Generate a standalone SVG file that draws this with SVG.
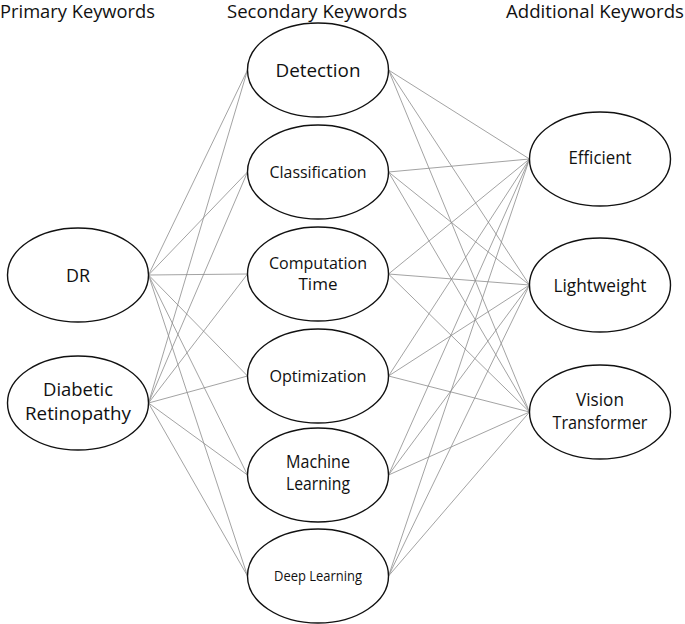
<svg xmlns="http://www.w3.org/2000/svg" width="685" height="624" viewBox="0 0 685 624">
<style>
text{font-family:"Open Sans","Liberation Sans",sans-serif;fill:#111;text-anchor:middle}
.hd{font-size:18px;text-anchor:start}
ellipse{fill:#fff;stroke:#111;stroke-width:1.4}
#connectors line{stroke:#8c8c8c;stroke-width:0.8}
</style>
<rect width="685" height="624" fill="#fff"/>
<text class="hd" x="0" y="18" textLength="155" lengthAdjust="spacingAndGlyphs">Primary Keywords</text>
<text class="hd" x="227" y="18" textLength="180" lengthAdjust="spacingAndGlyphs">Secondary Keywords</text>
<text class="hd" x="506" y="18" textLength="178" lengthAdjust="spacingAndGlyphs">Additional Keywords</text>
<g id="connectors">
<line x1="148.5" y1="275" x2="247.5" y2="70"/>
<line x1="148.5" y1="275" x2="247.5" y2="172"/>
<line x1="148.5" y1="275" x2="247.5" y2="274"/>
<line x1="148.5" y1="275" x2="247.5" y2="376"/>
<line x1="148.5" y1="275" x2="247.5" y2="475"/>
<line x1="148.5" y1="275" x2="247.5" y2="576"/>
<line x1="148.5" y1="403" x2="247.5" y2="70"/>
<line x1="148.5" y1="403" x2="247.5" y2="172"/>
<line x1="148.5" y1="403" x2="247.5" y2="274"/>
<line x1="148.5" y1="403" x2="247.5" y2="376"/>
<line x1="148.5" y1="403" x2="247.5" y2="475"/>
<line x1="148.5" y1="403" x2="247.5" y2="576"/>
<line x1="388.5" y1="70" x2="529.5" y2="159"/>
<line x1="388.5" y1="70" x2="529.5" y2="285"/>
<line x1="388.5" y1="70" x2="529.5" y2="412"/>
<line x1="388.5" y1="172" x2="529.5" y2="159"/>
<line x1="388.5" y1="172" x2="529.5" y2="285"/>
<line x1="388.5" y1="172" x2="529.5" y2="412"/>
<line x1="388.5" y1="274" x2="529.5" y2="159"/>
<line x1="388.5" y1="274" x2="529.5" y2="285"/>
<line x1="388.5" y1="274" x2="529.5" y2="412"/>
<line x1="388.5" y1="376" x2="529.5" y2="159"/>
<line x1="388.5" y1="376" x2="529.5" y2="285"/>
<line x1="388.5" y1="376" x2="529.5" y2="412"/>
<line x1="388.5" y1="475" x2="529.5" y2="159"/>
<line x1="388.5" y1="475" x2="529.5" y2="285"/>
<line x1="388.5" y1="475" x2="529.5" y2="412"/>
<line x1="388.5" y1="576" x2="529.5" y2="159"/>
<line x1="388.5" y1="576" x2="529.5" y2="285"/>
<line x1="388.5" y1="576" x2="529.5" y2="412"/>
</g>
<g id="dr"><ellipse cx="78" cy="275" rx="70.5" ry="47"/><text x="78" y="282" font-size="19" textLength="24" lengthAdjust="spacingAndGlyphs">DR</text></g>
<g id="diabetic-retinopathy"><ellipse cx="78" cy="403" rx="70.5" ry="47"/><text x="78" y="396" font-size="19" textLength="70" lengthAdjust="spacingAndGlyphs">Diabetic</text><text x="78" y="420" font-size="19" textLength="106" lengthAdjust="spacingAndGlyphs">Retinopathy</text></g>
<g id="detection"><ellipse cx="318" cy="70" rx="70.5" ry="47"/><text x="318" y="77" font-size="19" textLength="85" lengthAdjust="spacingAndGlyphs">Detection</text></g>
<g id="classification"><ellipse cx="318" cy="172" rx="70.5" ry="47"/><text x="318" y="178" font-size="17" textLength="97" lengthAdjust="spacingAndGlyphs">Classification</text></g>
<g id="computation-time"><ellipse cx="318" cy="274" rx="70.5" ry="47"/><text x="318" y="269" font-size="17" textLength="98" lengthAdjust="spacingAndGlyphs">Computation</text><text x="318" y="290" font-size="17" textLength="39" lengthAdjust="spacingAndGlyphs">Time</text></g>
<g id="optimization"><ellipse cx="318" cy="376" rx="70.5" ry="47"/><text x="318" y="382" font-size="17" textLength="97" lengthAdjust="spacingAndGlyphs">Optimization</text></g>
<g id="machine-learning"><ellipse cx="318" cy="475" rx="70.5" ry="47"/><text x="318" y="468" font-size="18" textLength="64" lengthAdjust="spacingAndGlyphs">Machine</text><text x="318" y="490" font-size="18" textLength="64" lengthAdjust="spacingAndGlyphs">Learning</text></g>
<g id="deep-learning"><ellipse cx="318" cy="576" rx="70.5" ry="47"/><text x="318" y="581" font-size="15" textLength="88" lengthAdjust="spacingAndGlyphs">Deep Learning</text></g>
<g id="efficient"><ellipse cx="600" cy="159" rx="70.5" ry="47"/><text x="600" y="164" font-size="18" textLength="63" lengthAdjust="spacingAndGlyphs">Efficient</text></g>
<g id="lightweight"><ellipse cx="600" cy="285" rx="70.5" ry="47"/><text x="600" y="292" font-size="18" textLength="93" lengthAdjust="spacingAndGlyphs">Lightweight</text></g>
<g id="vision-transformer"><ellipse cx="600" cy="412" rx="70.5" ry="47"/><text x="600" y="406" font-size="18" textLength="48" lengthAdjust="spacingAndGlyphs">Vision</text><text x="600" y="429" font-size="18" textLength="95" lengthAdjust="spacingAndGlyphs">Transformer</text></g>
</svg>
